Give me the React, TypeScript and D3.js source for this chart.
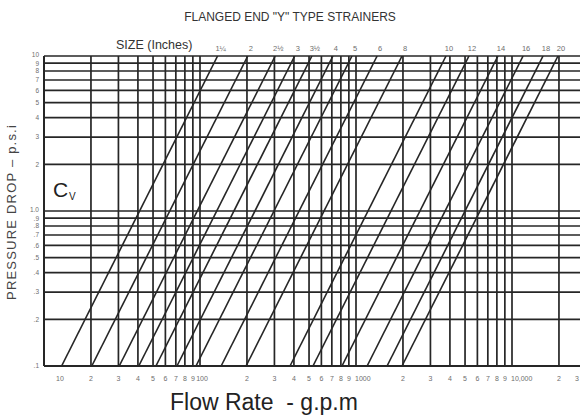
import React from "react";
import * as d3 from "d3";

const title = 'FLANGED END "Y" TYPE STRAINERS';
const sizeTitle = "SIZE (Inches)";
const yTitle = "PRESSURE DROP – p.s.i";
const xTitle = "Flow Rate  - g.p.m";

// Size labels and their flow coefficients (Cv: gpm at 1 psi drop)
const sizes = ["1¼", "2", "2½", "3", "3½", "4", "5", "6", "8", "10", "12", "14", "16", "18", "20"];
const cvValues = [41, 64, 96, 128, 165, 225, 298, 432, 624, 1194, 1676, 2570, 3725, 5000, 6236];

const yTickValues = [10, 9, 8, 7, 6, 5, 4, 3, 2, 1, 0.9, 0.8, 0.7, 0.6, 0.5, 0.4, 0.3, 0.2, 0.1];
const yTickLabels = ["10", "9", "8", "7", "6", "5", "4", "3", "2", "1.0", ".9", ".8", ".7", ".6", ".5", ".4", ".3", ".2", ".1"];

const xTickValues = [
  10, 20, 30, 40, 50, 60, 70, 80, 90,
  100, 200, 300, 400, 500, 600, 700, 800, 900,
  1000, 2000, 3000, 4000, 5000, 6000, 7000, 8000, 9000,
  10000, 20000, 30000,
];
const xTickLabels = [
  "10", "2", "3", "4", "5", "6", "7", "8", "9",
  "100", "2", "3", "4", "5", "6", "7", "8", "9",
  "1000", "2", "3", "4", "5", "6", "7", "8", "9",
  "10,000", "2", "3",
];

const W = 580;
const H = 418;
const left = 44;
const right = 580;
const top = 56;
const bottom = 366;

export default function App() {
  const x = d3.scaleLog().domain([10, 10000]).range([left, 512]);
  const y = d3.scaleLog().domain([0.1, 10]).range([bottom, top]);
  const ink = "#262626";
  const grey = "#6e6e6e";
  const font = "Liberation Sans, Arial, sans-serif";

  const lineGen = d3
    .line<[number, number]>()
    .x((d) => x(d[0]))
    .y((d) => y(d[1]));

  const labelX = (v: number, lab: string) => {
    const px = x(v);
    if (lab === "10") return { x: px + 16, anchor: "middle" };
    if (lab === "100") return { x: px + 2, anchor: "middle" };
    if (lab === "1000" || lab === "10,000") return { x: px - 1, anchor: "start" };
    return { x: Math.min(px, 577), anchor: "middle" };
  };

  const yLabelShift = (lab: string) => {
    if (lab === "10" || lab === "1.0") return -1.5;
    if (lab === "9" || lab === ".9") return 0.8;
    return 0;
  };

  return (
    <svg
      width={W}
      height={H}
      style={{ position: "absolute", left: 0, top: 0, background: "#fff" }}
      fontFamily={font}
    >
      <defs>
        <clipPath id="plot">
          <rect x={left} y={top} width={right - left} height={bottom - top} />
        </clipPath>
      </defs>
      <rect x={0} y={0} width={W} height={H} fill="#fff" />
      <text x={290} y={21} textAnchor="middle" fontSize={12} fill="#333">
        {title}
      </text>
      <text x={116} y={49} fontSize={12.5} fill="#333">
        {sizeTitle}
      </text>

      {/* horizontal grid */}
      {yTickValues.map((v, i) => (
        <g key={"h" + i}>
          <line x1={left} x2={right} y1={y(v)} y2={y(v)} stroke={ink} strokeWidth={1.7} />
          <text
            x={39}
            y={y(v) + 2.3 + yLabelShift(yTickLabels[i])}
            textAnchor="end"
            fontSize={6.5}
            fill={grey}
          >
            {yTickLabels[i]}
          </text>
        </g>
      ))}

      {/* vertical grid */}
      {xTickValues.map((v, i) => {
        const px = x(v);
        const lab = labelX(v, xTickLabels[i]);
        return (
          <g key={"v" + i}>
            {px <= right && (
              <line x1={px} x2={px} y1={top} y2={bottom} stroke={ink} strokeWidth={1.7} />
            )}
            <text x={lab.x} y={381} textAnchor={lab.anchor} fontSize={7} fill={grey}>
              {xTickLabels[i]}
            </text>
          </g>
        );
      })}

      {/* diagonal size lines: dp = (Q/Cv)^2 */}
      <g clipPath="url(#plot)">
        {cvValues.map((cv, i) => {
          const pts: [number, number][] = [
            [cv * Math.sqrt(0.1), 0.1],
            [cv * Math.sqrt(10), 10],
          ];
          return (
            <path key={"d" + i} d={lineGen(pts) || ""} fill="none" stroke={ink} strokeWidth={1.6} />
          );
        })}
      </g>

      {sizes.map((s, i) => (
        <text key={"s" + i} x={x(cvValues[i] * Math.sqrt(10)) + 3} y={51} textAnchor="middle" fontSize={7.5} fill={grey}>
          {s}
        </text>
      ))}

      {/* left and bottom border */}
      <line x1={left} x2={left} y1={top} y2={bottom} stroke={ink} strokeWidth={2} />
      <line x1={left} x2={right} y1={bottom} y2={bottom} stroke={ink} strokeWidth={2} />

      <text
        transform={`translate(16, 212) rotate(-90)`}
        textAnchor="middle"
        fontSize={13}
        letterSpacing={1.2}
        fill="#444"
      >
        {yTitle}
      </text>

      <text x={53} y={197} fontSize={21} fill="#222">
        C
      </text>
      <text x={69} y={200} fontSize={10} fill="#222">
        V
      </text>

      <text x={170} y={410} fontSize={23} fill="#222" style={{ whiteSpace: "pre" }}>
        {xTitle}
      </text>
    </svg>
  );
}
